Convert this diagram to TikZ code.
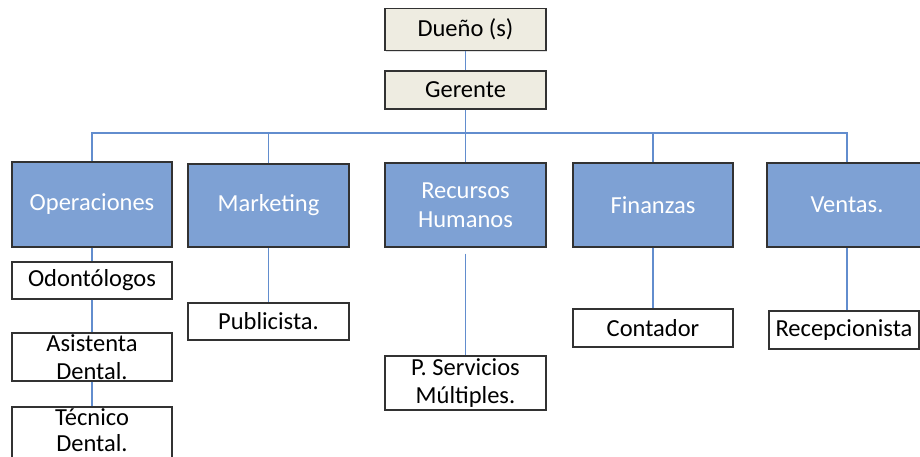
\documentclass[tikz,border=0pt]{standalone}
\usepackage{fontspec}
\setmainfont{Carlito}
\usetikzlibrary{shadows}
\definecolor{deptblue}{RGB}{126,161,212}
\definecolor{topbeige}{RGB}{238,236,225}
\definecolor{linkblue}{RGB}{98,141,206}
\definecolor{edgegray}{RGB}{50,50,50}
\tikzset{
  basebox/.style={draw=edgegray, line width=1.1pt, inner sep=0pt, align=center,
    font=\fontsize{24.5}{28.5}\selectfont,
    drop shadow={opacity=0.25, shadow xshift=1.2pt, shadow yshift=-1.2pt}},
  topbox/.style={basebox, fill=topbeige, text=black},
  deptbox/.style={basebox, fill=deptblue, text=white},
  staffbox/.style={basebox, fill=white, text=black},
  link/.style={draw=linkblue, line width=1.2pt}
}
\begin{document}
\begin{tikzpicture}[x=1pt,y=-1pt]
\useasboundingbox (0,0) rectangle (920,457);
% top
\node[topbox, minimum width=161pt, minimum height=42pt] (own) at (465.5,29.5) {Dueño (s)};
\node[topbox, minimum width=161pt, minimum height=38pt] (ger) at (465.5,90) {Gerente};
% departments
\node[deptbox, minimum width=160pt, minimum height=85pt] (ops) at (92,204.5) {Operaciones};
\node[deptbox, minimum width=161pt, minimum height=83pt] (mkt) at (268.5,205.5) {Marketing};
\node[deptbox, minimum width=161pt, minimum height=84pt] (rh) at (465.5,205) {Recursos\\Humanos};
\node[deptbox, minimum width=160pt, minimum height=84pt] (fin) at (653,205) {Finanzas};
\node[deptbox, minimum width=160pt, minimum height=84pt] (ven) at (847,205) {Ventas.};
% staff
\node[staffbox, minimum width=160pt, minimum height=37pt] (odo) at (92,280.5) {Odontólogos};
\node[staffbox, minimum width=160pt, minimum height=48pt] (asi) at (92,357) {Asistenta\\Dental.};
\node[staffbox, minimum width=160pt, minimum height=52pt, text depth=6pt,
      font=\fontsize{24.5}{26.5}\selectfont] (tec) at (92,433) {Técnico\\Dental.};
\node[staffbox, minimum width=161pt, minimum height=37pt] (pub) at (268.5,321.5) {Publicista.};
\node[staffbox, minimum width=161pt, minimum height=54pt] (psm) at (465.5,383) {P. Servicios\\Múltiples.};
\node[staffbox, minimum width=160pt, minimum height=38pt] (con) at (653,328) {Contador};
\node[staffbox, minimum width=150pt, minimum height=38pt] (rec) at (844,330) {Recepcionista};
% bus
\coordinate (bus) at (465.5,133);
\draw[link] (own.south) -- (ger.north);
\draw[link] (ger.south) -- (bus);
\foreach \d in {ops,mkt,rh,fin,ven}{
  \draw[link] (\d.north) |- (bus);
}
% subordinate links
\draw[link] (ops.south) -- (odo.north);
\draw[link] (odo.south) -- (asi.north);
\draw[link] (asi.south) -- (tec.north);
\draw[link] (mkt.south) -- (pub.north);
\draw[link, shorten <=6pt] (rh.south) -- (psm.north);
\draw[link] (fin.south) -- (con.north);
\draw[link] (ven.south) -- (ven.south |- rec.north);
\end{tikzpicture}
\end{document}
